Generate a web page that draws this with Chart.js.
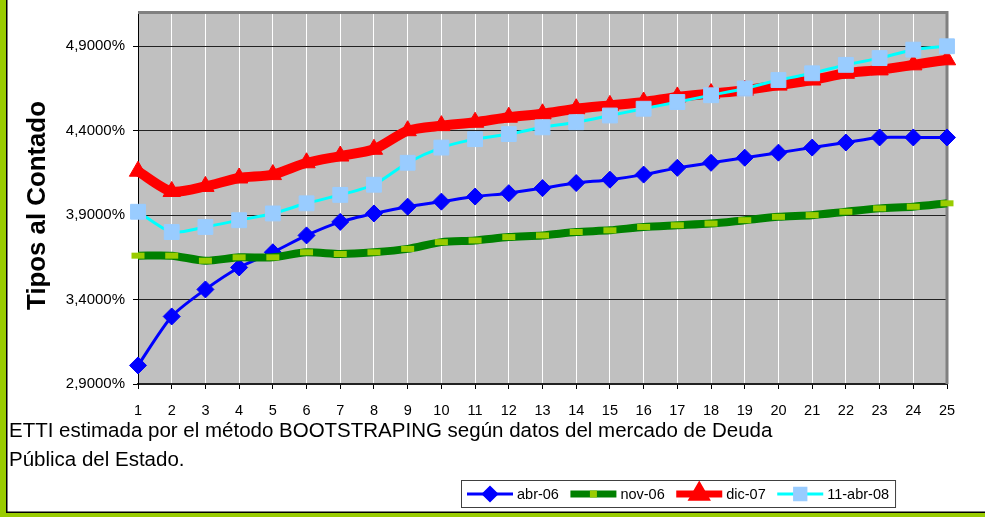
<!DOCTYPE html>
<html>
<head>
<meta charset="utf-8">
<script src="https://cdn.jsdelivr.net/npm/chart.js@4.4.1/dist/chart.umd.min.js"></script>
<style>
  body { margin: 0; background: #fff; }
  #wrap { position: relative; width: 985px; height: 517px; }
</style>
</head>
<body>
<div id="wrap"><canvas id="myChart" width="985" height="517"></canvas></div>
<script>
// plazos (años)
const plazos = ["1","2","3","4","5","6","7","8","9","10","11","12","13","14","15","16","17","18","19","20","21","22","23","24","25"];

// tipos al contado (%)
const abr06 = [3.01, 3.30, 3.46, 3.59, 3.68, 3.78, 3.86, 3.91, 3.95, 3.98, 4.01, 4.03, 4.06, 4.09, 4.11, 4.14, 4.18, 4.21, 4.24, 4.27, 4.30, 4.33, 4.36, 4.36, 4.36];
const nov06 = [3.66, 3.66, 3.63, 3.65, 3.65, 3.68, 3.67, 3.68, 3.70, 3.74, 3.75, 3.77, 3.78, 3.80, 3.81, 3.83, 3.84, 3.85, 3.87, 3.89, 3.90, 3.92, 3.94, 3.95, 3.97];
const dic07 = [4.16, 4.04, 4.07, 4.12, 4.14, 4.21, 4.25, 4.29, 4.40, 4.43, 4.45, 4.48, 4.50, 4.53, 4.55, 4.57, 4.60, 4.62, 4.64, 4.67, 4.70, 4.74, 4.76, 4.79, 4.82];
const abr08 = [3.92, 3.80, 3.83, 3.87, 3.91, 3.97, 4.02, 4.08, 4.21, 4.30, 4.35, 4.38, 4.42, 4.45, 4.49, 4.53, 4.57, 4.61, 4.65, 4.70, 4.74, 4.79, 4.83, 4.88, 4.90];

const seriesNames = ["abr-06", "nov-06", "dic-07", "11-abr-08"];
const yTicks = [2.9, 3.4, 3.9, 4.4, 4.9];

const yTitle = "Tipos al Contado";
const captionLines = [
  "ETTI estimada por el método BOOTSTRAPING según datos del mercado de Deuda",
  "Pública del Estado."
];

const FONT = "'Liberation Sans', Arial, sans-serif";

// fondo gris del área y borde superior/derecho
const plotArea = {
  id: "plotArea",
  beforeDraw(chart) {
    const { ctx, chartArea: a } = chart;
    ctx.save();
    ctx.fillStyle = "#c0c0c0";
    ctx.fillRect(a.left, a.top, a.right - a.left, a.bottom - a.top);
    ctx.restore();
  },
  beforeDatasetsDraw(chart) {
    const { ctx, chartArea: a } = chart;
    ctx.save();
    ctx.strokeStyle = "#808080";
    ctx.lineWidth = 3;
    ctx.beginPath();
    ctx.moveTo(a.left, a.top);
    ctx.lineTo(a.right, a.top);
    ctx.lineTo(a.right, a.bottom);
    ctx.stroke();
    ctx.restore();
  },
  afterDraw(chart) {
    const ctx = chart.ctx;
    ctx.save();
    // marco verde
    ctx.fillStyle = "#99cc00";
    ctx.fillRect(0, 0, 6, 517);
    ctx.fillRect(0, 513, 985, 4);
    ctx.fillStyle = "#000";
    ctx.fillRect(6, 0, 1.5, 513);
    ctx.fillRect(6, 511.5, 979, 1.5);

    // título del eje Y
    ctx.save();
    ctx.translate(38, 205.5);
    ctx.rotate(-Math.PI / 2);
    ctx.font = "bold 25.8px " + FONT;
    ctx.textAlign = "center";
    ctx.textBaseline = "middle";
    ctx.fillStyle = "#000";
    ctx.fillText(yTitle, 0, 0);
    ctx.restore();

    // texto al pie
    ctx.fillStyle = "#000";
    ctx.font = "20.5px " + FONT;
    ctx.textBaseline = "alphabetic";
    ctx.textAlign = "left";
    ctx.fillText(captionLines[0], 9, 437);
    ctx.fillText(captionLines[1], 9, 466);

    // leyenda
    ctx.font = "14.5px " + FONT;
    ctx.textBaseline = "middle";
    const yMid = 494;
    let x = 467;
    chart.data.datasets.forEach((ds, i) => {
      ctx.strokeStyle = ds.borderColor;
      ctx.lineWidth = ds.legendLineWidth;
      ctx.beginPath();
      ctx.moveTo(x, yMid);
      ctx.lineTo(x + 46, yMid);
      ctx.stroke();
      ctx.fillStyle = ds.pointBackgroundColor;
      ctx.strokeStyle = ds.pointBorderColor;
      Chart.helpers.drawPoint(ctx, {
        pointStyle: ds.pointStyle,
        radius: ds.legendPointRadius,
        rotation: 0,
        borderWidth: ds.pointBorderWidth
      }, x + 23, yMid);
      ctx.fillStyle = "#000";
      ctx.fillText(ds.label, x + 50, yMid + 1);
      x = x + 50 + ctx.measureText(ds.label).width + 11.5;
    });
    ctx.strokeStyle = "#404040";
    ctx.lineWidth = 1;
    ctx.strokeRect(461.5, 480.5, x - 461.5 - 5, 27);
    ctx.restore();
  }
};

const ctx = document.getElementById("myChart");

const myChart = new Chart(ctx, {
  type: "line",
  data: {
    labels: plazos,
    datasets: [
      {
        label: seriesNames[0],
        data: abr06,
        borderColor: "#0000ff",
        borderWidth: 3,
        legendLineWidth: 3,
        legendPointRadius: 6.5,
        pointStyle: "rectRot",
        pointRadius: 8.5,
        pointBackgroundColor: "#0000ff",
        pointBorderColor: "#0000ff",
        pointBorderWidth: 1,
        order: 4,
      },
      {
        label: seriesNames[1],
        data: nov06,
        borderColor: "#008000",
        borderWidth: 8,
        legendLineWidth: 7,
        legendPointRadius: 3.5,
        pointStyle: "line",
        pointRadius: 6.5,
        pointBackgroundColor: "#99cc00",
        pointBorderColor: "#99cc00",
        pointBorderWidth: 6,
        order: 3,
      },
      {
        label: seriesNames[2],
        data: dic07,
        borderColor: "#ff0000",
        borderWidth: 10,
        legendLineWidth: 7,
        legendPointRadius: 6.5,
        pointStyle: "triangle",
        pointRadius: 10,
        pointBackgroundColor: "#ff0000",
        pointBorderColor: "#ff0000",
        pointBorderWidth: 1,
        order: 2,
      },
      {
        label: seriesNames[3],
        data: abr08,
        borderColor: "#00ffff",
        borderWidth: 3,
        legendLineWidth: 3,
        legendPointRadius: 8,
        pointStyle: "rect",
        pointRadius: 10.5,
        pointBackgroundColor: "#99ccff",
        pointBorderColor: "#99ccff",
        pointBorderWidth: 1,
        order: 1,
      },
    ],
  },
  options: {
    responsive: false,
    animation: false,
    devicePixelRatio: 1,
    layout: { padding: { left: 0, top: 12, right: 38, bottom: 93 } },
    elements: { line: { tension: 0.25 } },
    datasets: { line: { clip: false } },
    scales: {
      x: {
        offset: false,
        grid: { color: "#ffffff", lineWidth: 1, tickColor: "#000", tickLength: 5 },
        border: { color: "#222", width: 2 },
        ticks: {
          color: "#000",
          padding: 13,
          maxRotation: 0,
          autoSkip: false,
          font: { family: FONT, size: 14.5 },
        },
        afterFit(scale) {
          scale.height = 40;
          scale.paddingLeft = 0;
          scale.paddingRight = 0;
        },
      },
      y: {
        min: 2.9,
        max: 5.1,
        grid: { color: "#222", lineWidth: 1, tickColor: "#000", tickLength: 5 },
        border: { color: "#000", width: 1 },
        ticks: {
          color: "#000",
          padding: 8,
          font: { family: FONT, size: 15 },
          callback: (v) => v.toFixed(4).replace(".", ",") + "%",
        },
        afterBuildTicks(scale) {
          scale.ticks = yTicks.map((v) => ({ value: v }));
        },
        afterFit(scale) {
          scale.width = 138;
          scale.paddingTop = 0;
          scale.paddingBottom = 0;
        },
      },
    },
    plugins: {
      legend: { display: false },
      tooltip: { enabled: false },
    },
  },
  plugins: [plotArea],
});
</script>
</body>
</html>
